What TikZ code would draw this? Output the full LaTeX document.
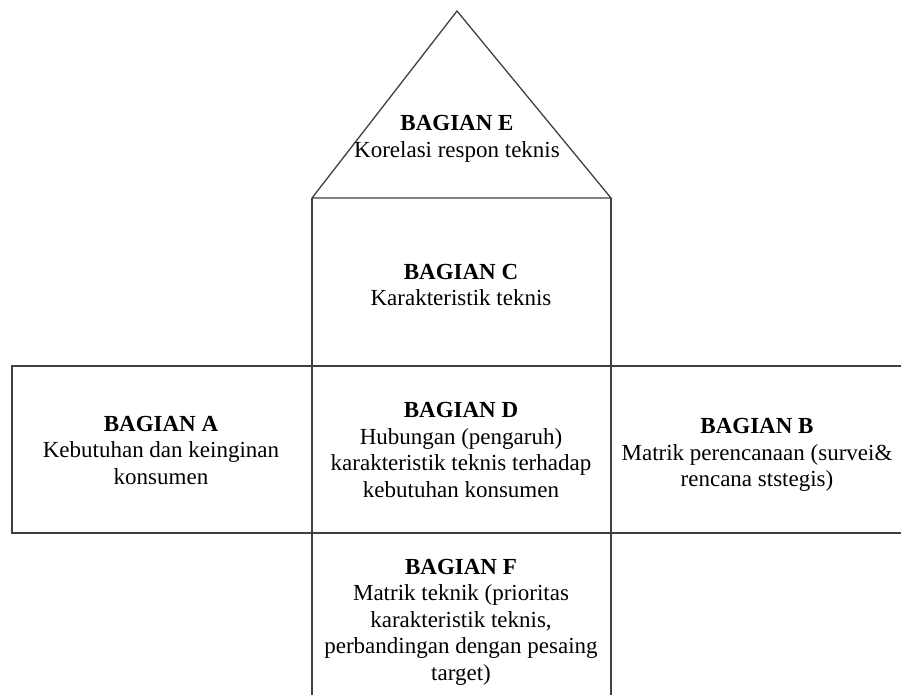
\documentclass[tikz,border=0pt]{standalone}
\usepackage{fontspec}
\setmainfont{Liberation Serif}
\usetikzlibrary{positioning}

\begin{document}
\begin{tikzpicture}[x=1pt,y=-1pt,line width=1.3pt,
  bagian/.style={align=center,font=\fontsize{23}{26.5}\selectfont}]
\useasboundingbox (0,0) rectangle (901,695);
\coordinate (apex) at (457,11);
\coordinate (c1) at (312,198);
\coordinate (c2) at (611,198);
\coordinate (m1) at (12,366);
\coordinate (m2) at (901,366);
\coordinate (b1) at (12,533);
\coordinate (b2) at (901,533);
\coordinate (f1) at (312,695);
\coordinate (f2) at (611,695);
\draw[black!75] (c1) -- (apex) -- (c2) -- (c1);
\draw[black!75] (c1) -- (f1);
\draw[black!75] (c2) -- (f2);
\draw[black!75] (m2) -- (m1) -- (b1) -- (b2);
\node[bagian] (e) at (457,139){\textbf{BAGIAN E}\\Korelasi respon teknis};
\node[bagian] (c) at (461,285){\textbf{BAGIAN C}\\Karakteristik teknis};
\node[bagian] (a) at (161,450){\textbf{BAGIAN A}\\Kebutuhan dan keinginan\\konsumen};
\node[bagian] (d) at (461,450){\textbf{BAGIAN D}\\Hubungan (pengaruh)\\karakteristik teknis terhadap\\kebutuhan konsumen};
\node[bagian] (b) at (757,455){\textbf{BAGIAN B}\\Matrik perencanaan (survei\&\\rencana ststegis)};
\node[bagian] (f) at (461,622){\textbf{BAGIAN F}\\Matrik teknik (prioritas\\karakteristik teknis,\\perbandingan dengan pesaing\\target)};
\end{tikzpicture}
\end{document}
